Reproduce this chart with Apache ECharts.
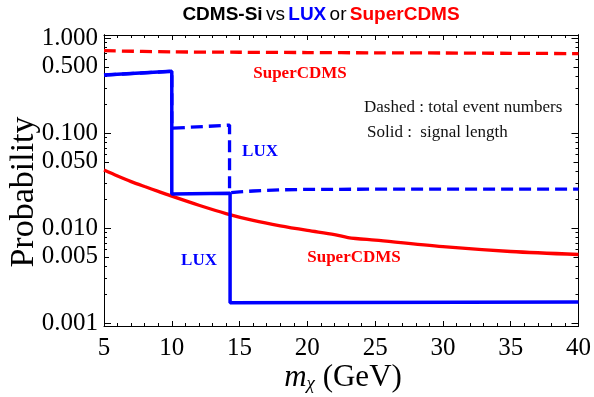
<!DOCTYPE html>
<html><head><meta charset="utf-8">
<script src="https://cdn.jsdelivr.net/npm/echarts@6/dist/echarts.min.js"></script>
<style>html,body{margin:0;padding:0;background:#fff}#c{width:594px;height:397px}</style>
</head><body><div id="c"></div>
<script>
// axis ranges and ticks
const xMin = 5, xMax = 40, xInterval = 5;
const yMin = 0.000937, yMax = 1.083;
const yLabelValues = [0.001, 0.005, 0.01, 0.05, 0.1, 0.5, 1];
const yMajorTicks = [0.001, 0.01, 0.1, 1];
const yMidTicks = [0.005, 0.05, 0.5];
const yMinorTicks = [0.002, 0.003, 0.004, 0.006, 0.007, 0.008, 0.009,
  0.02, 0.03, 0.04, 0.06, 0.07, 0.08, 0.09,
  0.2, 0.3, 0.4, 0.6, 0.7, 0.8, 0.9];

// SuperCDMS dashed (total event numbers)
const superDashedX = [5, 10, 15, 20, 25, 30, 35, 40];
const superDashedY = [0.74, 0.72, 0.713, 0.708, 0.703, 0.70, 0.695, 0.69];
// SuperCDMS solid (signal length)
const superSolidX = [5, 6, 7, 8, 9, 10, 12, 14, 16, 18, 20, 22, 23, 25, 30, 35, 40];
const superSolidY = [0.041, 0.0355, 0.031, 0.0275, 0.0245, 0.0218, 0.0175, 0.0143, 0.0121, 0.0106, 0.0095, 0.0086, 0.0080, 0.0075, 0.0064, 0.0057, 0.0053];
// LUX dashed (total event numbers)
const luxDashedX = [5, 10, 10, 14.26, 14.26, 15, 16, 18, 20, 25, 40];
const luxDashedY = [0.41, 0.45, 0.113, 0.122, 0.0237, 0.0242, 0.0247, 0.0254, 0.0257, 0.0258, 0.0258];
// LUX solid (signal length)
const luxSolidX = [5, 10, 10, 14.3, 14.3, 40];
const luxSolidY = [0.41, 0.45, 0.023, 0.0234, 0.00165, 0.00168];

const RED = '#ff0000', BLUE = '#0000ff';
const SERIF = 'Liberation Serif';
const SANS = 'Liberation Sans';

function pairs(xs, ys) { return xs.map((x, i) => [x, ys[i]]); }

const chart = echarts.init(document.getElementById('c'), null, {renderer: 'canvas'});

const labelStyle = {fontFamily: SERIF, fontSize: 25, color: '#000'};

function yAx(position, ticks, len, labels) {
  return {
    type: 'log', logBase: 10, min: yMin, max: yMax, position: position,
    axisLine: {show: true, onZero: false, lineStyle: {color: '#000', width: 1}},
    axisTick: {show: true, inside: true, length: len, customValues: ticks, lineStyle: {color: '#000', width: 1}},
    axisLabel: labels ? Object.assign({show: true, margin: 6, customValues: yLabelValues,
      formatter: v => Number(v).toFixed(3)}, labelStyle) : {show: false},
    splitLine: {show: false}, minorTick: {show: false}
  };
}
function xAx(position, labels) {
  return {
    type: 'value', min: xMin, max: xMax, interval: xInterval, position: position,
    axisLine: {show: true, onZero: false, lineStyle: {color: '#000', width: 1}},
    axisTick: {show: true, inside: true, length: 5, lineStyle: {color: '#000', width: 1}},
    minorTick: {show: true, splitNumber: 5, length: 3, lineStyle: {color: '#000', width: 1}},
    axisLabel: labels ? Object.assign({show: true, margin: 10}, labelStyle) : {show: false},
    splitLine: {show: false}
  };
}

const option = {
  backgroundColor: '#fff',
  animation: false,
  grid: {left: 104, top: 35, width: 476, height: 291, containLabel: false},
  xAxis: [xAx('bottom', true), xAx('top', false)],
  yAxis: [
    yAx('left', yMajorTicks, 7, true),
    yAx('left', yMidTicks, 5, false),
    yAx('left', yMinorTicks, 3, false),
    yAx('right', yMajorTicks, 7, false),
    yAx('right', yMidTicks, 5, false),
    yAx('right', yMinorTicks, 3, false)
  ],
  series: [
    {type: 'line', name: 'SuperCDMS dashed', data: pairs(superDashedX, superDashedY), showSymbol: false, smooth: 0.3,
      lineStyle: {color: RED, width: 3.3, type: [12, 6]}, z: 2},
    {type: 'line', name: 'LUX dashed', data: pairs(luxDashedX, luxDashedY), showSymbol: false,
      lineStyle: {color: BLUE, width: 3.3, type: [12, 6]}, z: 2},
    {type: 'line', name: 'SuperCDMS solid', data: pairs(superSolidX, superSolidY), showSymbol: false, smooth: 0.3,
      lineStyle: {color: RED, width: 3.3}, z: 3},
    {type: 'line', name: 'LUX solid', data: pairs(luxSolidX, luxSolidY), showSymbol: false,
      lineStyle: {color: BLUE, width: 3.5}, z: 4}
  ],
  graphic: [
    {type: 'text', x: 321, y: 15, style: {
      text: '{b|CDMS-Si} {n|vs} {l|LUX} {n|or} {s|SuperCDMS}',
      align: 'center', verticalAlign: 'middle',
      rich: {
        b: {fontFamily: SANS, fontWeight: 'bold', fontSize: 19, fill: '#000'},
        n: {fontFamily: SANS, fontSize: 19, fill: '#000'},
        l: {fontFamily: SANS, fontWeight: 'bold', fontSize: 19, fill: BLUE},
        s: {fontFamily: SANS, fontWeight: 'bold', fontSize: 19, fill: RED}
      }}},
    {type: 'text', x: 300, y: 74, style: {text: 'SuperCDMS', fontFamily: SERIF, fontWeight: 'bold', fontSize: 17, fill: RED, align: 'center', verticalAlign: 'middle'}},
    {type: 'text', x: 260, y: 152, style: {text: 'LUX', fontFamily: SERIF, fontWeight: 'bold', fontSize: 17, fill: BLUE, align: 'center', verticalAlign: 'middle'}},
    {type: 'text', x: 199, y: 261, style: {text: 'LUX', fontFamily: SERIF, fontWeight: 'bold', fontSize: 17, fill: BLUE, align: 'center', verticalAlign: 'middle'}},
    {type: 'text', x: 354, y: 258, style: {text: 'SuperCDMS', fontFamily: SERIF, fontWeight: 'bold', fontSize: 17, fill: RED, align: 'center', verticalAlign: 'middle'}},
    {type: 'text', x: 364, y: 108, style: {text: 'Dashed : total event numbers', fontFamily: SERIF, fontSize: 17, fill: '#111', align: 'left', verticalAlign: 'middle'}},
    {type: 'text', x: 367, y: 133, style: {text: 'Solid :  signal length', fontFamily: SERIF, fontSize: 17, fill: '#111', align: 'left', verticalAlign: 'middle'}},
    {type: 'text', x: 24, y: 192, rotation: Math.PI / 2, style: {text: 'Probability', fontFamily: SERIF, fontSize: 34, fill: '#000', align: 'center', verticalAlign: 'middle'}},
    {type: 'text', x: 343, y: 378, style: {
      text: '{i|m}{s|χ}{n| (GeV)}', align: 'center', verticalAlign: 'middle',
      rich: {
        i: {fontFamily: SERIF, fontStyle: 'italic', fontSize: 31, lineHeight: 30, fill: '#000'},
        s: {fontFamily: SERIF, fontStyle: 'italic', fontSize: 19, lineHeight: 10, verticalAlign: 'bottom', fill: '#000'},
        n: {fontFamily: SERIF, fontSize: 31, lineHeight: 30, fill: '#000'}
      }}}
  ]
};
chart.setOption(option);
</script>
</body></html>
